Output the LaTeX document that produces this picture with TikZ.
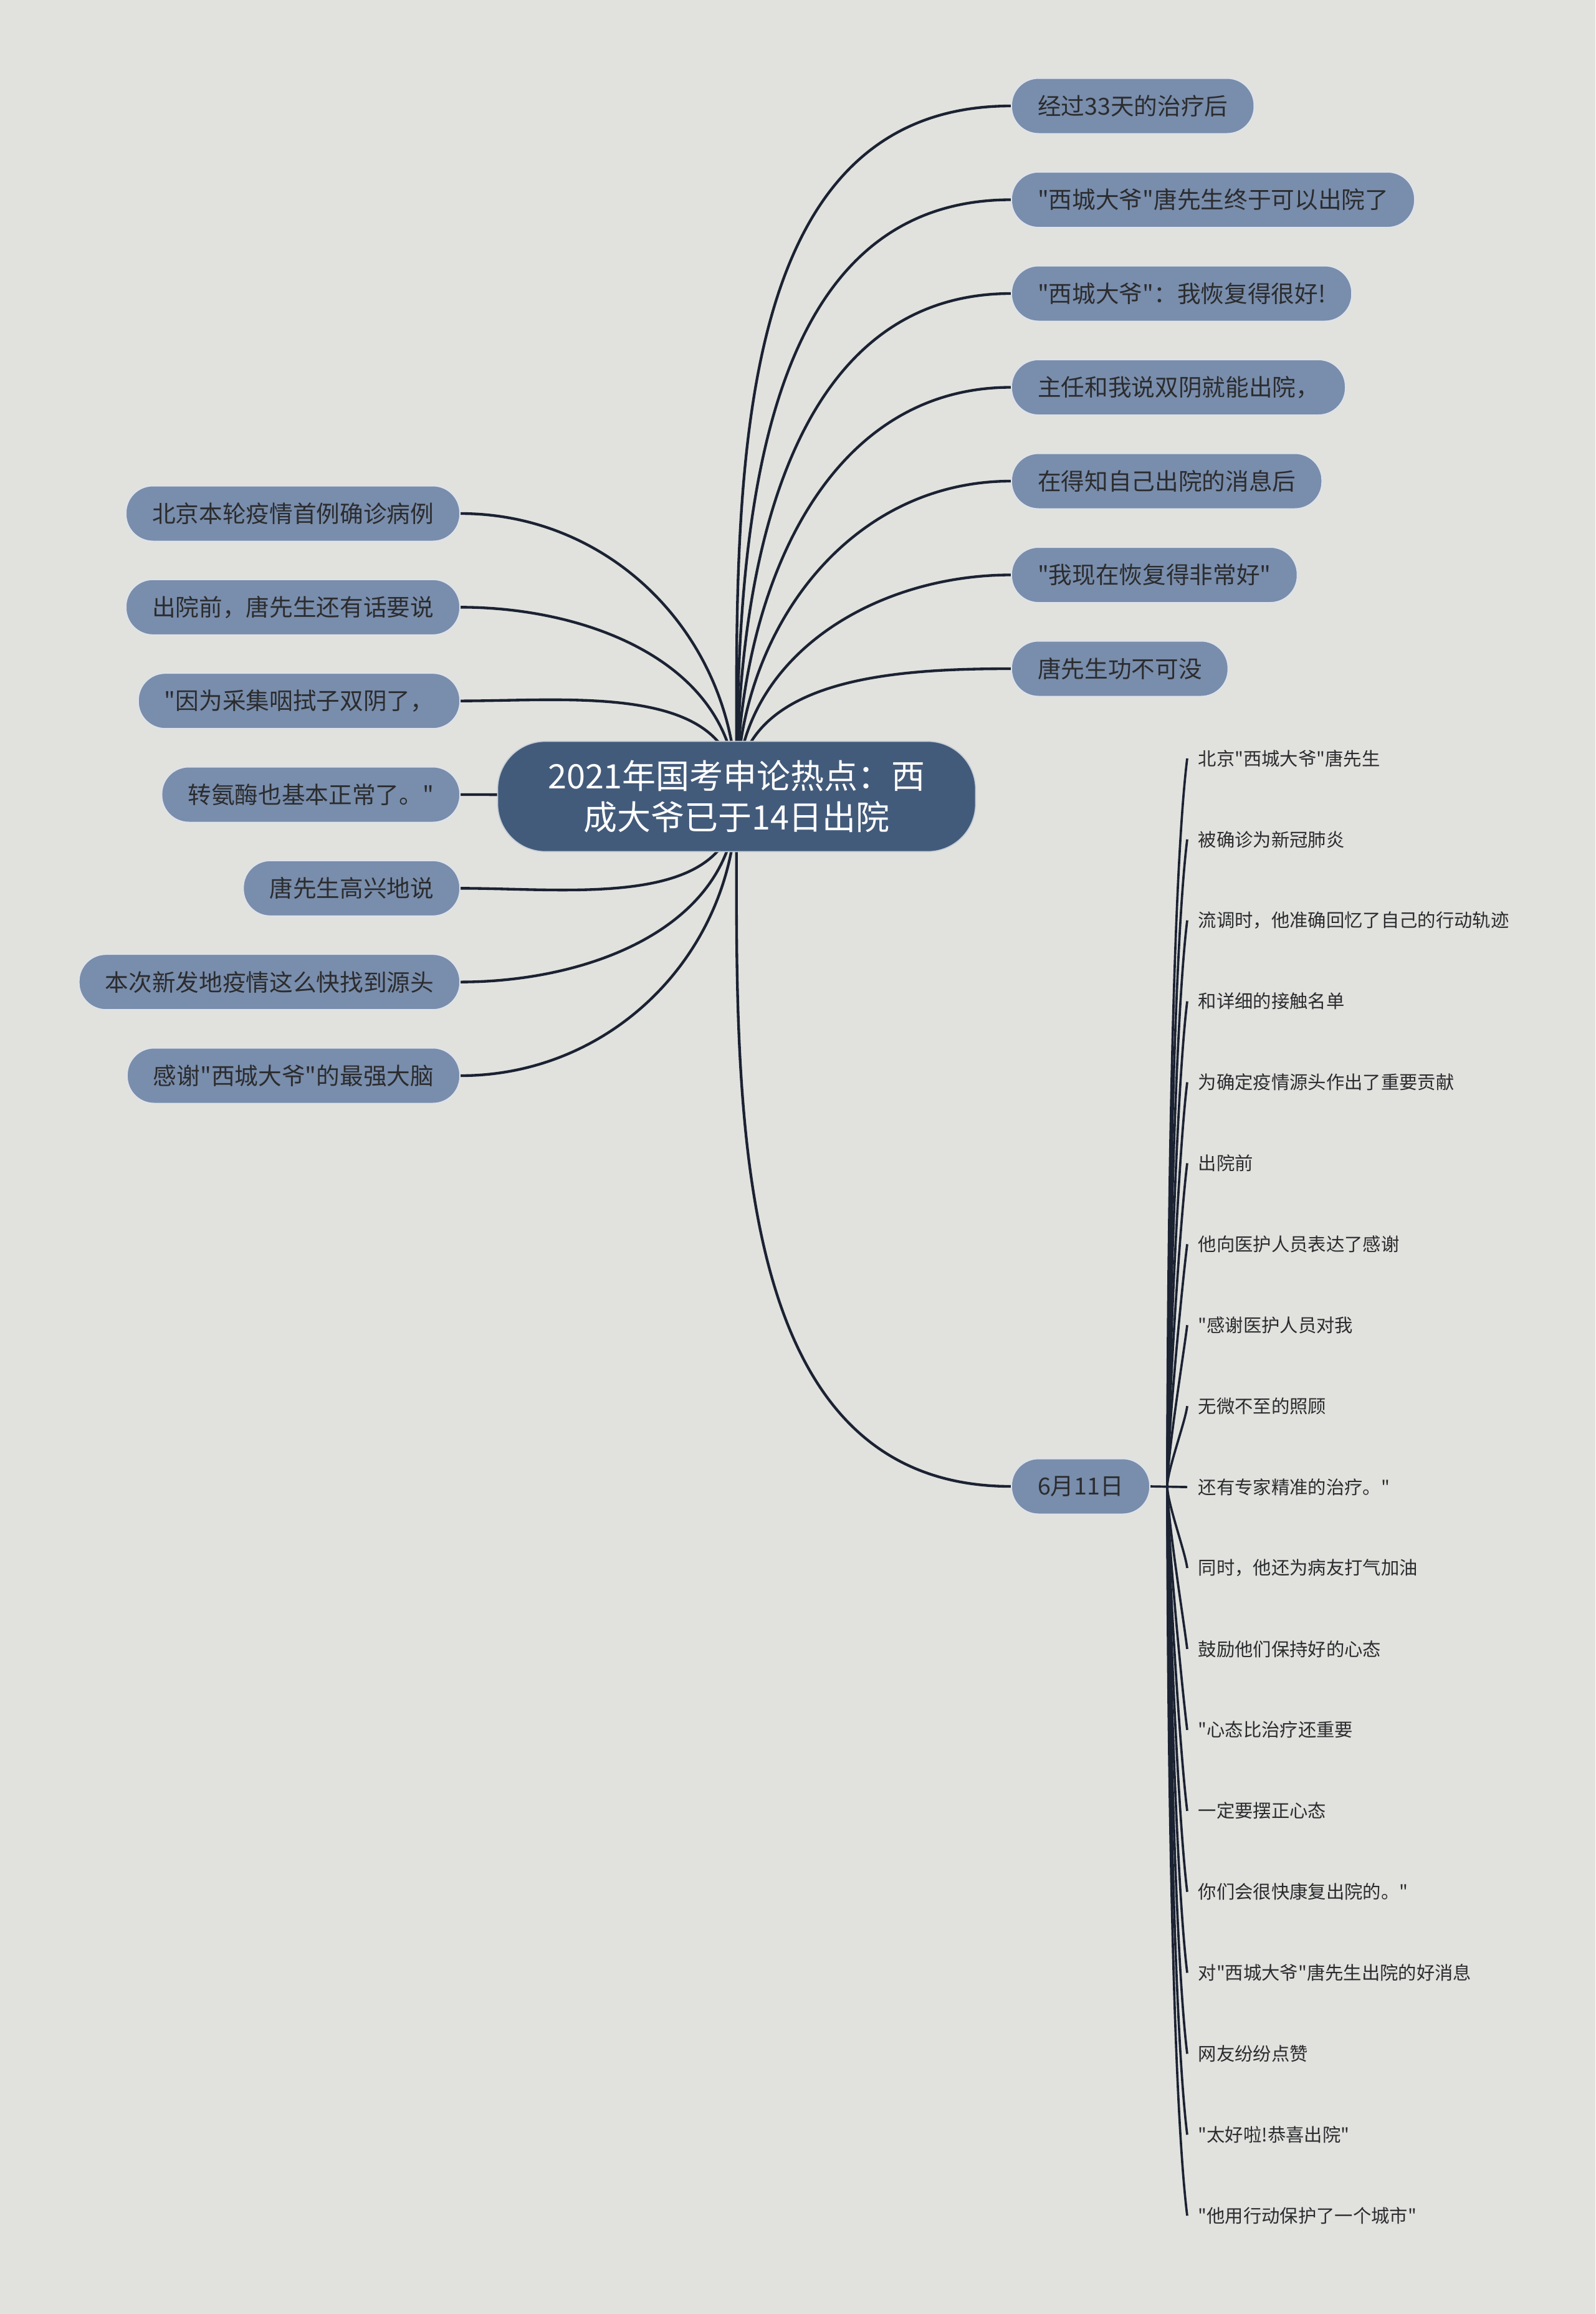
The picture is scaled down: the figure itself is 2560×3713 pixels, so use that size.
\documentclass[tikz,border=0pt]{standalone}
\usepackage{fontspec}
\newfontfamily\cjkfont{Noto Sans CJK SC}
\usepackage{xcolor}
\usepackage{tikz}
\usetikzlibrary{positioning, calc}

\definecolor{canvas}{HTML}{E1E2DE}
\definecolor{rootfill}{HTML}{435B7B}
\definecolor{topicfill}{HTML}{798DAC}
\definecolor{linkcol}{HTML}{1B2232}
\definecolor{inkdark}{HTML}{2B2C2E}

\pgfdeclarelayer{paper}
\pgfdeclarelayer{links}
\pgfsetlayers{paper,links,main}

\begin{document}
\begin{tikzpicture}[
  x=0.3pt, y=-0.3pt,
  root/.style={rectangle, rounded corners=23pt, fill=rootfill, draw=white!70!rootfill, line width=0.5pt, minimum width=230.1pt, minimum height=53.1pt, font=\cjkfont\fontsize{16.2}{19.9}\selectfont, text=white, align=center},
  topic/.style={rectangle, rounded corners=13pt, fill=topicfill, draw=white!75!topicfill, line width=0.6pt, minimum height=26.7pt, inner xsep=12.6pt, font=\cjkfont\fontsize{11.3}{13}\selectfont, text=inkdark},
  leaf/.style={inner xsep=5.1pt, inner ysep=2pt, font=\cjkfont\fontsize{8.8}{10}\selectfont, text=inkdark},
  link/.style={draw=linkcol, line width=1.3pt},
  twig/.style={draw=linkcol, line width=1.1pt}
]

\useasboundingbox (0,0) rectangle (2560,3713);
\begin{pgfonlayer}{paper}
\fill[canvas] (0,0) rectangle (2560,3713);
\end{pgfonlayer}

% Root
\node[root] (root) at (1182,1278) {2021年国考申论热点：西\\成大爷已于14日出院};

% Right branch
\node[topic, anchor=west] (r1) at (1622,170) {经过33天的治疗后};
\node[topic, below=45.15pt of r1.west, anchor=west] (r2) {"西城大爷"唐先生终于可以出院了};
\node[topic, below=45.15pt of r2.west, anchor=west] (r3) {"西城大爷"：我恢复得很好!};
\node[topic, below=45.15pt of r3.west, anchor=west] (r4) {主任和我说双阴就能出院，};
\node[topic, below=45.15pt of r4.west, anchor=west] (r5) {在得知自己出院的消息后};
\node[topic, below=45.15pt of r5.west, anchor=west] (r6) {"我现在恢复得非常好"};
\node[topic, below=45.15pt of r6.west, anchor=west] (r7) {唐先生功不可没};
\node[topic, anchor=west] (day) at (1622,2385) {6月11日};

% Left branch
\node[topic, anchor=east] (l1) at (739,824) {北京本轮疫情首例确诊病例};
\node[topic, below=45.1pt of l1.east, anchor=east] (l2) {出院前，唐先生还有话要说};
\node[topic, below=45.1pt of l2.east, anchor=east] (l3) {"因为采集咽拭子双阴了，};
\node[topic, below=45.1pt of l3.east, anchor=east] (l4) {转氨酶也基本正常了。"};
\node[topic, below=45.1pt of l4.east, anchor=east] (l5) {唐先生高兴地说};
\node[topic, below=45.1pt of l5.east, anchor=east] (l6) {本次新发地疫情这么快找到源头};
\node[topic, below=45.1pt of l6.east, anchor=east] (l7) {感谢"西城大爷"的最强大脑};

% Leaves of 6月11日
\node[leaf, anchor=west] (c1) at (1905,1217) {北京"西城大爷"唐先生};
\node[leaf, below=38.97pt of c1.west, anchor=west] (c2) {被确诊为新冠肺炎};
\node[leaf, below=38.97pt of c2.west, anchor=west] (c3) {流调时，他准确回忆了自己的行动轨迹};
\node[leaf, below=38.97pt of c3.west, anchor=west] (c4) {和详细的接触名单};
\node[leaf, below=38.97pt of c4.west, anchor=west] (c5) {为确定疫情源头作出了重要贡献};
\node[leaf, below=38.97pt of c5.west, anchor=west] (c6) {出院前};
\node[leaf, below=38.97pt of c6.west, anchor=west] (c7) {他向医护人员表达了感谢};
\node[leaf, below=38.97pt of c7.west, anchor=west] (c8) {"感谢医护人员对我};
\node[leaf, below=38.97pt of c8.west, anchor=west] (c9) {无微不至的照顾};
\node[leaf, below=38.97pt of c9.west, anchor=west] (c10) {还有专家精准的治疗。"};
\node[leaf, below=38.97pt of c10.west, anchor=west] (c11) {同时，他还为病友打气加油};
\node[leaf, below=38.97pt of c11.west, anchor=west] (c12) {鼓励他们保持好的心态};
\node[leaf, below=38.97pt of c12.west, anchor=west] (c13) {"心态比治疗还重要};
\node[leaf, below=38.97pt of c13.west, anchor=west] (c14) {一定要摆正心态};
\node[leaf, below=38.97pt of c14.west, anchor=west] (c15) {你们会很快康复出院的。"};
\node[leaf, below=38.97pt of c15.west, anchor=west] (c16) {对"西城大爷"唐先生出院的好消息};
\node[leaf, below=38.97pt of c16.west, anchor=west] (c17) {网友纷纷点赞};
\node[leaf, below=38.97pt of c17.west, anchor=west] (c18) {"太好啦!恭喜出院"};
\node[leaf, below=38.97pt of c18.west, anchor=west] (c19) {"他用行动保护了一个城市"};

\begin{pgfonlayer}{links}
% root to right branch
\draw[link] (root.center) to[out=90,in=180] (r1.west);
\draw[link] (root.center) to[out=90,in=180] (r2.west);
\draw[link] (root.center) to[out=90,in=180] (r3.west);
\draw[link] (root.center) to[out=90,in=180] (r4.west);
\draw[link] (root.center) to[out=90,in=180] (r5.west);
\draw[link] (root.center) to[out=90,in=180] (r6.west);
\draw[link] (root.center) to[out=90,in=180] (r7.west);
\draw[link] (root.center) to[out=-90,in=180] (day.west);

% root to left branch
\draw[link] (root.center) to[out=90,in=0] (l1.east);
\draw[link] (root.center) to[out=90,in=0] (l2.east);
\draw[link] (root.center) to[out=90,in=0] (l3.east);
\draw[link] (root.center) to[out=180,in=0] (l4.east);
\draw[link] (root.center) to[out=-90,in=0] (l5.east);
\draw[link] (root.center) to[out=-90,in=0] (l6.east);
\draw[link] (root.center) to[out=-90,in=0] (l7.east);

% 6月11日 to its leaves
\coordinate[right=8.1pt of day.east] (hub);
\draw[twig] (day.east) -- (c10.west);
\draw[twig] (hub) to[out=90,in=-97,looseness=0.5] (c1.west);
\draw[twig] (hub) to[out=90,in=-97,looseness=0.5] (c2.west);
\draw[twig] (hub) to[out=90,in=-97,looseness=0.5] (c3.west);
\draw[twig] (hub) to[out=90,in=-97,looseness=0.5] (c4.west);
\draw[twig] (hub) to[out=90,in=-97,looseness=0.5] (c5.west);
\draw[twig] (hub) to[out=90,in=-97,looseness=0.5] (c6.west);
\draw[twig] (hub) to[out=90,in=-97,looseness=0.5] (c7.west);
\draw[twig] (hub) to[out=90,in=-97,looseness=0.5] (c8.west);
\draw[twig] (hub) to[out=90,in=-97,looseness=0.5] (c9.west);
\draw[twig] (hub) to[out=-90,in=97,looseness=0.5] (c11.west);
\draw[twig] (hub) to[out=-90,in=97,looseness=0.5] (c12.west);
\draw[twig] (hub) to[out=-90,in=97,looseness=0.5] (c13.west);
\draw[twig] (hub) to[out=-90,in=97,looseness=0.5] (c14.west);
\draw[twig] (hub) to[out=-90,in=97,looseness=0.5] (c15.west);
\draw[twig] (hub) to[out=-90,in=97,looseness=0.5] (c16.west);
\draw[twig] (hub) to[out=-90,in=97,looseness=0.5] (c17.west);
\draw[twig] (hub) to[out=-90,in=97,looseness=0.5] (c18.west);
\draw[twig] (hub) to[out=-90,in=97,looseness=0.5] (c19.west);
\end{pgfonlayer}

\end{tikzpicture}
\end{document}
